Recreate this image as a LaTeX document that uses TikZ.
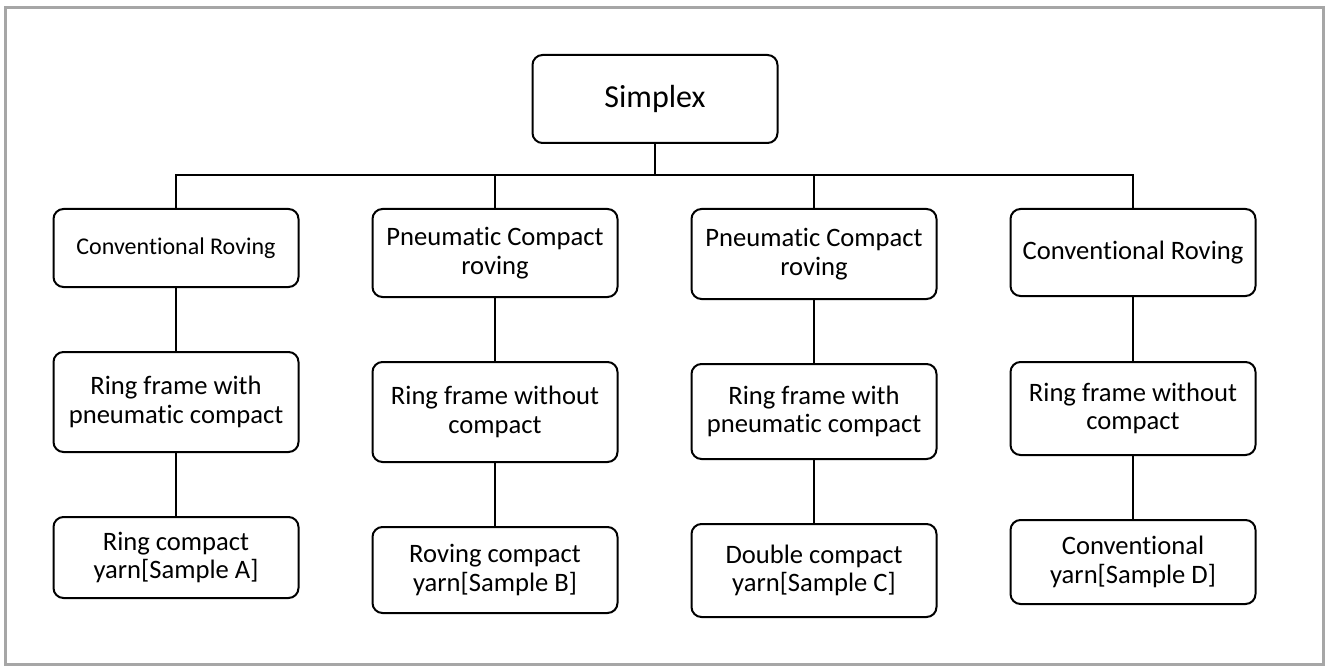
\documentclass[tikz,border=0pt]{standalone}
\usepackage{fontspec}
\setmainfont{Carlito}[Ligatures=NoCommon]
\usetikzlibrary{calc}

\tikzset{
	box/.style={draw, line width=1pt, rounded corners=5pt, align=center, anchor=north,
		minimum width=122.5pt, inner sep=2pt, font=\fontsize{13.3}{14.4}\selectfont},
	link/.style={line width=1pt},
}

\begin{document}
\begin{tikzpicture}[x=0.5pt, y=-0.5pt]
					\useasboundingbox (0,0) rectangle (1326,668);
					\draw[line width=1.5pt, black!35] (5,8) rectangle (1323,664);

					% top
					\node[box, minimum height=44pt, font=\fontsize{16}{18}\selectfont] (simplex) at (655,54) {Simplex};
					\coordinate (split) at (655,175);

					% first row
					\begin{scope}
						\node[box, minimum height=39pt, font=\fontsize{12}{13}\selectfont] (rovA) at (176,208) {Conventional Roving};
						\node[box, minimum height=44pt] (rovB) at (495,208) {Pneumatic Compact\\roving};
						\node[box, minimum height=45pt] (rovC) at (814,208) {Pneumatic Compact\\roving};
						\node[box, minimum height=43.5pt] (rovD) at (1133,208) {Conventional Roving};
					\end{scope}

					% second row
					\begin{scope}
						\node[box, minimum height=50pt] (ringA) at (176,351) {Ring frame with\\pneumatic compact};
						\node[box, minimum height=50pt] (ringB) at (495,361) {Ring frame without\\compact};
						\node[box, minimum height=47.5pt] (ringC) at (814,363) {Ring frame with\\pneumatic compact};
						\node[box, minimum height=46.5pt] (ringD) at (1133,361) {Ring frame without\\compact};
					\end{scope}

					% third row
					\begin{scope}
						\node[box, minimum height=40.5pt] (yarnA) at (176,516) {Ring compact\\yarn[Sample A]};
						\node[box, minimum height=43pt] (yarnB) at (495,526) {Roving compact\\yarn[Sample B]};
						\node[box, minimum height=46.5pt] (yarnC) at (814,523) {Double compact\\yarn[Sample C]};
						\node[box, minimum height=42pt] (yarnD) at (1133,519) {Conventional\\yarn[Sample D]};
					\end{scope}

					% connectors
					\begin{scope}[link]
						\draw (simplex) -- (split);
						\foreach \c in {A,B,C,D}
						{
							\draw (split) -| (rov\c.north);
							\draw (rov\c) -- (ring\c) -- (yarn\c);
						}
					\end{scope}
				\end{tikzpicture}
\end{document}
